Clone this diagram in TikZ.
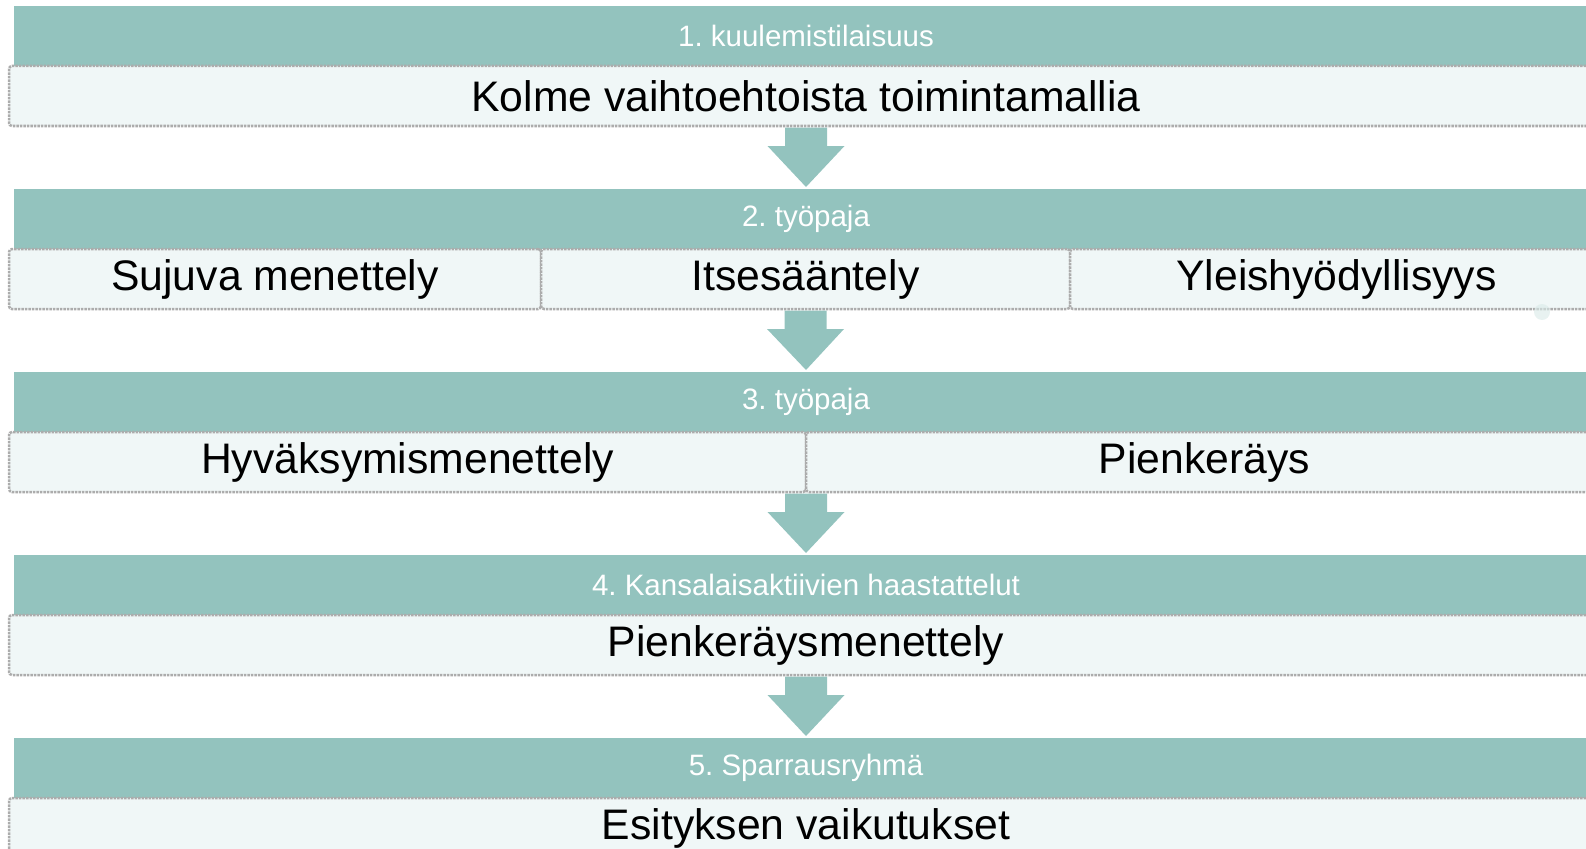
\documentclass[tikz,border=0pt]{standalone}
\usepackage{fontspec}
\setmainfont{Liberation Sans}
\usetikzlibrary{positioning, calc}
\definecolor{tiel}{RGB}{147,195,190}
\definecolor{pohja}{RGB}{240,247,247}
\frenchspacing
\tikzstyle{otsikko} = [rectangle, minimum width=1584, minimum height=60, inner sep=0, outer sep=0, fill=tiel, text=white, font=\fontsize{29.5}{35}\selectfont]
\tikzstyle{malli} = [rectangle, rounded corners=3, minimum height=60, inner sep=0, outer sep=0, fill=pohja, draw=gray!65, line width=2.5, densely dotted, font=\fontsize{42.7}{50}\selectfont]
\tikzstyle{nuoli} = [fill=tiel, draw=none]

\begin{document}
\begin{tikzpicture}[x=1pt, y=-1pt, node distance=183]
  \useasboundingbox (0,0) rectangle (1586,848);
  \node (h1) [otsikko] at (806,36) {1. kuulemistilaisuus};
  \node (h2) [otsikko, below of=h1] {2. työpaja};
  \node (h3) [otsikko, below of=h2] {3. työpaja};
  \node (h4) [otsikko, below of=h3] {4. Kansalaisaktiivien haastattelut};
  \node (h5) [otsikko, below of=h4] {5. Sparrausryhmä};

  \node (b1) [malli, minimum width=1594, below=0pt of h1] {Kolme vaihtoehtoista toimintamallia};
  \node (b2a) [malli, minimum width=532, anchor=north west] at ($(h2.south west)+(-5,0)$) {Sujuva menettely};
  \node (b2b) [malli, minimum width=529, right=0pt of b2a] {Itsesääntely};
  \node (b2c) [malli, minimum width=533, right=0pt of b2b] {Yleishyödyllisyys};
  \node (b3a) [malli, minimum width=797, anchor=north west] at ($(h3.south west)+(-5,0)$) {Hyväksymismenettely};
  \node (b3b) [malli, minimum width=797, right=0pt of b3a] {Pienkeräys};
  \node (b4) [malli, minimum width=1594, below=0pt of h4] {Pienkeräysmenettely};
  \node (b5) [malli, minimum width=1594, below=0pt of h5] {Esityksen vaikutukset};

  % nuolet
  \fill [nuoli] ($(b1.south)+(-21,1.5)$) -- ($(b1.south)+(21,1.5)$) -- ($(b1.south)+(21,20)$) -- ($(b1.south)+(38.5,20)$) -- ($(h2.north)+(0,-2)$) -- ($(b1.south)+(-38.5,20)$) -- ($(b1.south)+(-21,20)$) -- cycle;
  \fill [nuoli] ($(b2b.south)+(-21,1.5)$) -- ($(b2b.south)+(21,1.5)$) -- ($(b2b.south)+(21,20)$) -- ($(b2b.south)+(38.5,20)$) -- ($(h3.north)+(0,-2)$) -- ($(b2b.south)+(-38.5,20)$) -- ($(b2b.south)+(-21,20)$) -- cycle;
  \fill [nuoli] ($(b3a.south east)+(-21,1.5)$) -- ($(b3a.south east)+(21,1.5)$) -- ($(b3a.south east)+(21,20)$) -- ($(b3a.south east)+(38.5,20)$) -- ($(h4.north)+(0,-2)$) -- ($(b3a.south east)+(-38.5,20)$) -- ($(b3a.south east)+(-21,20)$) -- cycle;
  \fill [nuoli] ($(b4.south)+(-21,1.5)$) -- ($(b4.south)+(21,1.5)$) -- ($(b4.south)+(21,20)$) -- ($(b4.south)+(38.5,20)$) -- ($(h5.north)+(0,-2)$) -- ($(b4.south)+(-38.5,20)$) -- ($(b4.south)+(-21,20)$) -- cycle;

  \fill [tiel!35, opacity=0.6] (1542,312) circle (8);
\end{tikzpicture}
\end{document}
